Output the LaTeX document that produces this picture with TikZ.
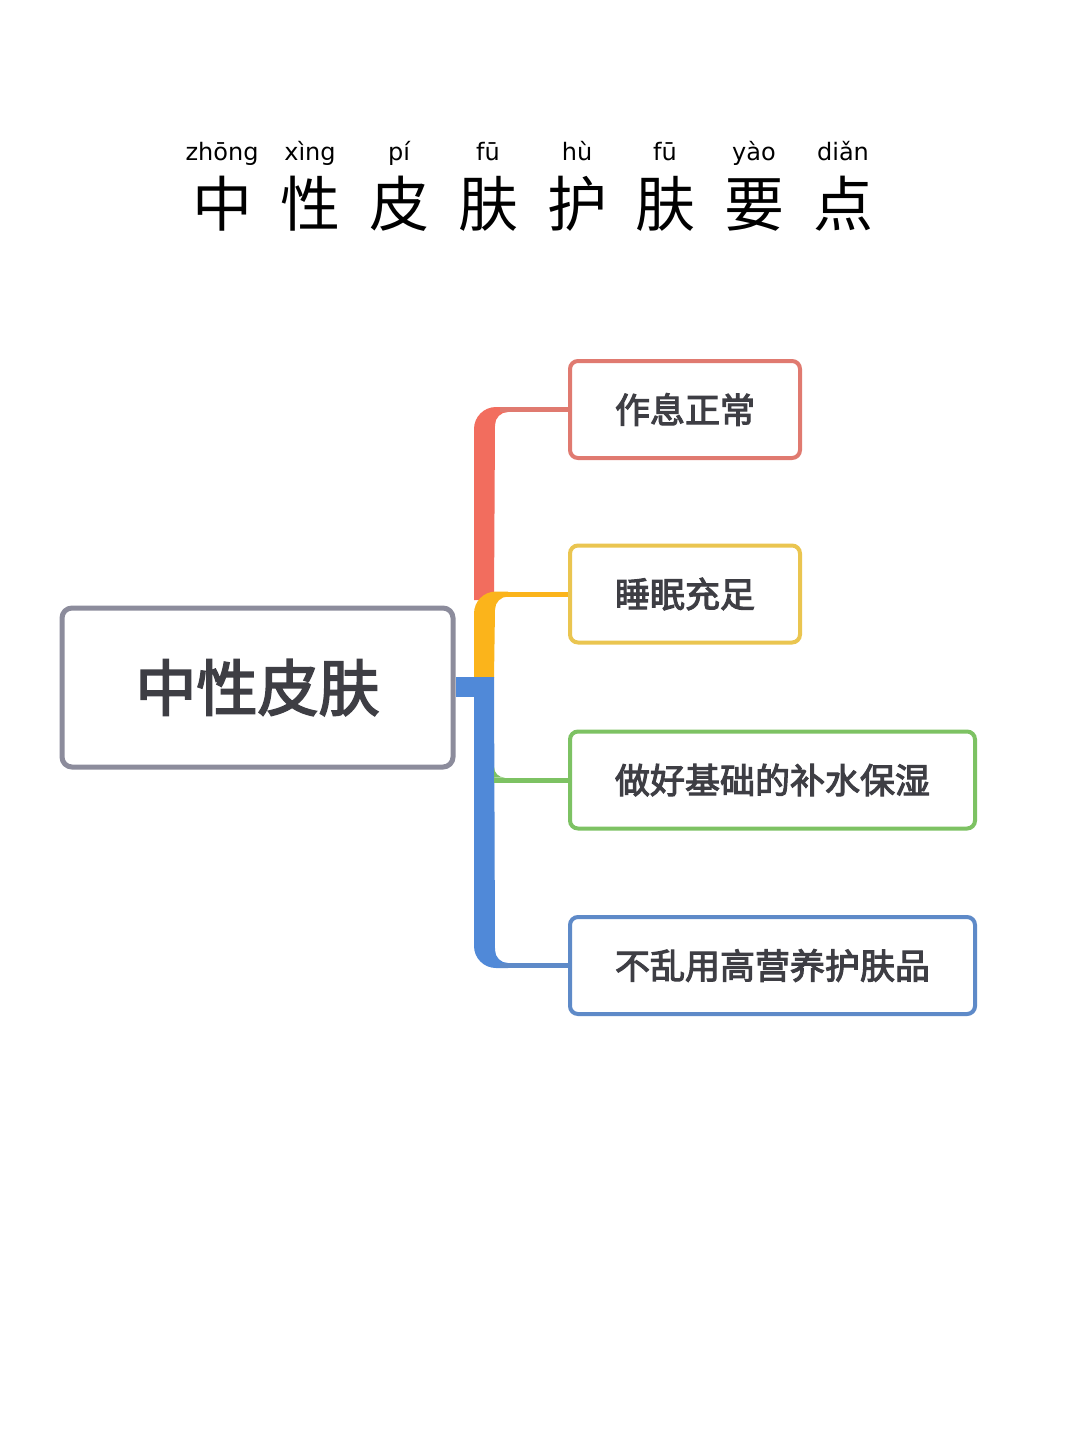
\documentclass[tikz,border=0pt]{standalone}
\usepackage{fontspec}
\newfontfamily\cjk{Noto Sans CJK SC}
\newfontfamily\cjkmed{Noto Sans CJK SC}[FakeBold=3]
\newfontfamily\pyfont{DejaVu Sans}

\definecolor{txtgray}{HTML}{3E3E44}
\definecolor{rootgray}{HTML}{8C8C9C}
\definecolor{trunkR}{HTML}{F26D5E}
\definecolor{boxR}{HTML}{E07A70}
\definecolor{trunkY}{HTML}{FBB41B}
\definecolor{boxY}{HTML}{EAC550}
\definecolor{boxG}{HTML}{7DC263}
\definecolor{trunkB}{HTML}{5089D8}
\definecolor{boxB}{HTML}{5E8AC8}

\tikzset{
  pinyin/.style={anchor=base, inner sep=0pt, font=\pyfont\fontsize{24}{28}\selectfont},
  hanzi/.style={anchor=base, inner sep=0pt, font=\cjk\fontsize{60}{64}\selectfont},
  root/.style={draw=rootgray, rounded corners=10pt, line width=5pt, fill=white,
               minimum width=391pt, minimum height=159pt, inner sep=0pt,
               text=txtgray, font=\cjkmed\fontsize{61}{66}\selectfont},
  topic/.style={draw, rounded corners=8pt, line width=4pt, fill=white,
                inner xsep=45pt, inner ysep=0pt, minimum height=97pt, anchor=west,
                text=txtgray, font=\cjkmed\fontsize{35}{40}\selectfont},
  twig/.style={line width=5pt},
}

\begin{document}
\begin{tikzpicture}[x=1pt, y=-1pt]
    \useasboundingbox[fill=white] (0,0) rectangle (1080,1440);

    % title with pinyin
    \foreach [count=\i] \py/\hz/\x in {zhōng/中/222, xìng/性/310, pí/皮/399, fū/肤/488,
                                       hù/护/577, fū/肤/665, yào/要/754, diǎn/点/843} {
        \node[pinyin] (py\i) at (\x,160) {\py};
        \node[hanzi]  (hz\i) at (\x,226) {\hz};
    }

    % central topic and branches
    \node[root] (skin) at (257.5,687.5) {中性皮肤};
    \node[topic, draw=boxR] (b1) at (568,409.5) {作息正常};
    \node[topic, draw=boxY] (b2) at (568,594)   {睡眠充足};
    \node[topic, draw=boxG] (b3) at (568,780)   {做好基础的补水保湿};
    \node[topic, draw=boxB] (b4) at (568,965.5) {不乱用高营养护肤品};

    \coordinate (trunk) at (500,687.5);

    % thick trunk pieces (red, yellow, blue)
    \fill[trunkR] (474,600) -- (474,429) arc[start angle=180, end angle=270, radius=22]
        -- (508,407) -- (508,412) arc[start angle=270, end angle=180, radius=13] -- (494,600) -- cycle;
    \fill[trunkY] (474,678) -- (474,613.5) arc[start angle=180, end angle=270, radius=22]
        -- (508,591.5) -- (508,596.5) arc[start angle=270, end angle=180, radius=13] -- (494,678) -- cycle;
    \fill[trunkB] (skin.east |- 0,677) rectangle (494,697);
    \fill[trunkB] (474,677) -- (474,946) arc[start angle=180, end angle=90, radius=22]
        -- (508,968) -- (508,963) arc[start angle=90, end angle=180, radius=13] -- (494,677) -- cycle;
    \fill[boxG] (494,767) arc[start angle=180, end angle=90, radius=10.5] -- (494,777.5) -- cycle;

    % thin links into the boxes
    \draw[twig, boxR]   (b1.west) -- (b1.west -| trunk);
    \draw[twig, trunkY] (b2.west) -- (b2.west -| trunk);
    \draw[twig, boxG]   (b3.west) -- (494,780);
    \draw[twig, boxB]   (b4.west) -- (b4.west -| trunk);
\end{tikzpicture}
\end{document}
